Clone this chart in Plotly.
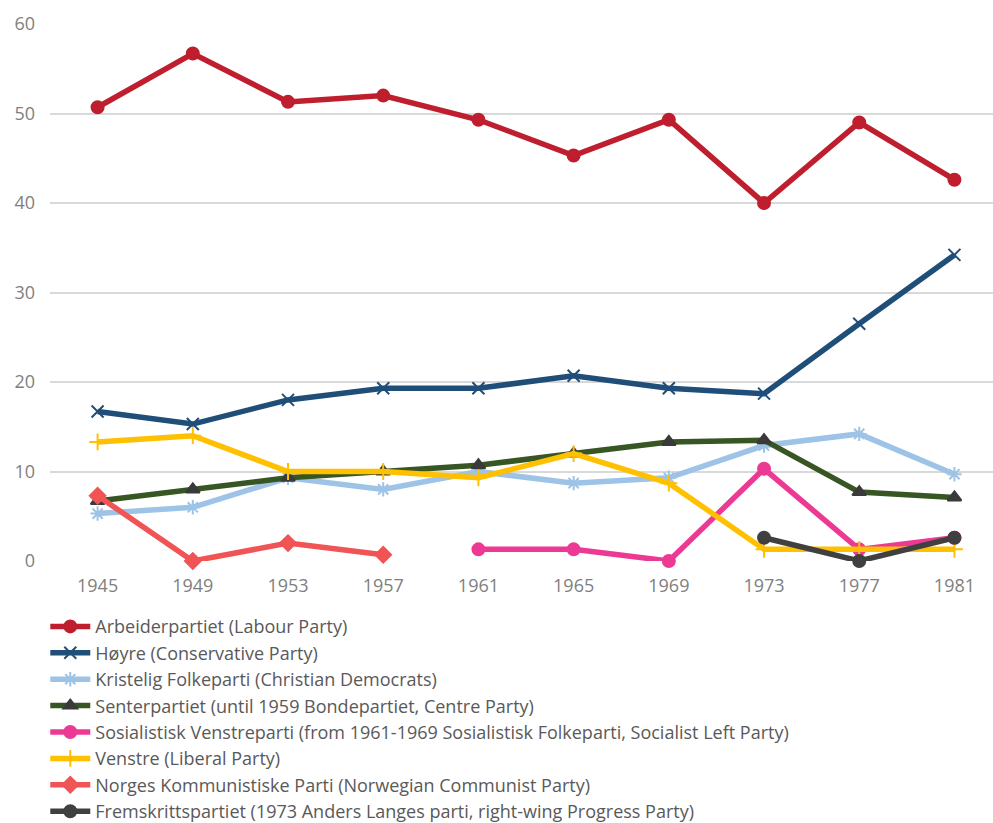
import plotly.graph_objects as go

years = ["1945", "1949", "1953", "1957", "1961", "1965", "1969", "1973", "1977", "1981"]

labour = [50.7, 56.7, 51.3, 52.0, 49.3, 45.3, 49.3, 40.0, 49.0, 42.6]
hoyre = [16.7, 15.3, 18.0, 19.3, 19.3, 20.7, 19.3, 18.7, 26.5, 34.2]
krf = [5.3, 6.0, 9.3, 8.0, 10.0, 8.7, 9.3, 12.9, 14.2, 9.7]
sp = [6.7, 8.0, 9.3, 10.0, 10.7, 12.0, 13.3, 13.5, 7.7, 7.1]
sv = [None, None, None, None, 1.3, 1.3, 0.0, 10.3, 1.3, 2.6]
venstre = [13.3, 14.0, 10.0, 10.0, 9.3, 12.0, 8.7, 1.3, 1.3, 1.3]
nkp = [7.3, 0.0, 2.0, 0.7, None, None, None, None, None, None]
frp = [None, None, None, None, None, None, None, 2.6, 0.0, 2.6]

series = [
    ("Arbeiderpartiet (Labour Party)", labour, "#BE1E2D", "circle", "#BE1E2D", 12),
    ("Høyre (Conservative Party)", hoyre, "#1F4E79", "x-thin-open", "#1F4E79", 12),
    ("Kristelig Folkeparti (Christian Democrats)", krf, "#9DC3E6", "asterisk-open", "#9DC3E6", 12),
    ("Senterpartiet (until 1959 Bondepartiet, Centre Party)", sp, "#375623", "triangle-up", "#3A3A3A", 12),
    ("Sosialistisk Venstreparti (from 1961-1969 Sosialistisk Folkeparti, Socialist Left Party)", sv, "#EC3A94", "circle", "#EC3A94", 12),
    ("Venstre (Liberal Party)", venstre, "#FFC000", "cross-thin-open", "#FFC000", 12),
    ("Norges Kommunistiske Parti (Norwegian Communist Party)", nkp, "#F05454", "diamond", "#F05454", 12),
    ("Fremskrittspartiet (1973 Anders Langes parti, right-wing Progress Party)", frp, "#404040", "circle", "#404040", 12),
]

fig = go.Figure()
for name, vals, color, sym, mcolor, msize in series:
    fig.add_trace(go.Scatter(
        x=years, y=vals, name=name, mode="lines+markers",
        line=dict(color=color, width=5.5),
        marker=dict(symbol=sym, size=msize, color=mcolor,
                    line=dict(color=mcolor, width=2)),
        cliponaxis=False, connectgaps=False,
    ))

fig.update_layout(
    width=993, height=823,
    margin=dict(l=50, r=0, t=24, b=262),
    paper_bgcolor="white", plot_bgcolor="white",
    font=dict(family="Open Sans, Liberation Sans, sans-serif", size=18, color="#595959"),
    showlegend=True,
    legend=dict(orientation="v", x=-0.005, xanchor="left", y=0.261, yanchor="top",
                yref="container",
                font=dict(size=18, color="#595959"), tracegroupgap=0,
                itemwidth=40),
    xaxis=dict(type="category", range=[-0.5, 9.405], showgrid=False, zeroline=False,
               showline=False, ticks="", ticklabelstandoff=12,
               tickfont=dict(size=18, color="#7F7F7F")),
    yaxis=dict(range=[0, 60], dtick=10, showgrid=True, gridcolor="#D9D9D9", gridwidth=1.5,
               zeroline=False, showline=False, ticks="", ticklabelstandoff=14,
               tickfont=dict(size=18, color="#7F7F7F")),
)

fig.write_html("out.html")
